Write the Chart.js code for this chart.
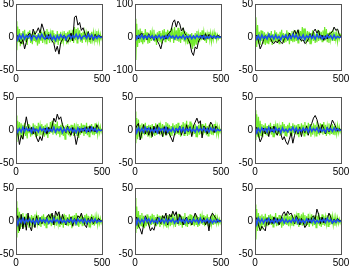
<!DOCTYPE html>
<html>
<head>
<meta charset="utf-8">
<script src="https://cdn.jsdelivr.net/npm/chart.js@4"></script>
<style>
  html, body { margin: 0; padding: 0; background: #fff; }
  #wrap { position: relative; width: 350px; height: 269px; overflow: hidden; }
  .cell { position: absolute; }
</style>
</head>
<body>
<div id="wrap"></div>
<script>
// sample index (x) for black and blue
var samples = [0, 10, 20, 30, 40, 50, 60, 70, 80, 90, 100, 110, 120, 130, 140, 150, 160, 170, 180, 190, 200,
  210, 220, 230, 240, 250, 260, 270, 280, 290, 300, 310, 320, 330, 340, 350, 360, 370, 380, 390, 400,
  410, 420, 430, 440, 450, 460, 470, 480, 490, 500];
// finer sample index for the green series
var samplesFine = [0, 5, 10, 15, 20, 25, 30, 35, 40, 45, 50, 55, 60, 65, 70, 75, 80, 85, 90, 95,
  100, 105, 110, 115, 120, 125, 130, 135, 140, 145, 150, 155, 160, 165, 170, 175, 180, 185, 190, 195,
  200, 205, 210, 215, 220, 225, 230, 235, 240, 245, 250, 255, 260, 265, 270, 275, 280, 285, 290, 295,
  300, 305, 310, 315, 320, 325, 330, 335, 340, 345, 350, 355, 360, 365, 370, 375, 380, 385, 390, 395,
  400, 405, 410, 415, 420, 425, 430, 435, 440, 445, 450, 455, 460, 465, 470, 475, 480, 485, 490, 495, 500];

// y limits per panel (tick labels are -lim, 0, lim)
var yLimits = [50, 100, 50, 50, 50, 50, 50, 50, 50];

// black series, one per panel
var black1 = [0, 2, -6, -10, -4, -18, -8, 3, 6, -2, 12, 4, 8, 14, 6, 20, 12, 2, -3, 4, -2, -6, -10, -22, -14, -26, -8, -4, 3, -2, -8, -3, 6, -6, 30, 32, 18, 22, 10, 14, 6, -2, 8, -4, 3, -5, 4, -1, 3, 1, 0];
var black2 = [0, 4, -6, 8, 12, -4, 6, -8, 10, -5, 4, -10, 6, -12, -22, -36, -14, 4, -6, 8, 12, 20, 44, 52, 30, 48, 40, 18, 28, 10, 4, -8, -20, -46, -56, -30, -36, -12, -4, 6, -8, 10, -4, 8, 2, -6, 4, -2, 6, 2, 0];
var black3 = [0, 3, -6, -18, -12, -4, 2, -3, 4, -2, -8, -10, -6, -9, -4, -8, -10, -3, 2, -4, 6, -2, 3, 10, 4, 11, -2, -6, -4, -10, -8, -3, 5, -2, 8, 12, 6, 10, -2, 3, -5, 2, -3, 4, 6, 8, 15, 10, 12, 4, 0];
var black4 = [0, -4, -22, -8, -14, 4, 20, 6, -2, 4, -6, 2, -12, -18, -10, -16, -4, 3, -6, 4, -2, 6, 18, 12, 24, 16, 20, 8, 2, -4, 6, -3, -8, 4, -6, -22, -10, 2, -4, 3, -2, 5, -3, 6, -2, 4, -3, 8, 2, -1, 0];
var black5 = [0, 6, 10, -15, -4, 8, -6, 3, -8, 4, -10, 6, -4, 8, -6, 2, -10, 5, -8, 4, -6, -12, -18, -6, 3, -4, 6, -8, 4, -6, 8, -3, 5, -10, 6, 12, 18, 10, 14, -12, 6, 3, -6, 4, 12, 8, -4, 6, 2, -1, 0];
var black6 = [0, 4, -8, -18, -12, 3, -6, 2, -10, 4, -3, 6, -4, -8, 3, -6, -15, -10, -18, -22, -14, -4, -20, -8, 2, -6, 4, -10, 3, -4, 6, -8, 4, 10, 18, 22, 16, 6, -4, 8, 2, -6, 4, -3, 6, 15, 10, 4, -2, 2, 0];
var black7 = [0, 8, -15, 10, -12, 6, -14, 12, -8, -15, 4, -10, 8, -6, 5, -4, 2, -3, 6, 10, 4, 12, -6, 15, 8, 14, -4, 10, 2, -6, 4, -3, 6, -8, 4, -2, 8, 5, 12, 3, -6, -10, 4, -2, 6, -4, 3, -2, 4, 1, 0];
var black8 = [0, 6, -8, -12, -20, -6, 8, 2, -6, -15, -10, -14, -4, 6, 2, -4, 8, 4, 12, -6, 10, 6, 15, 8, 14, -4, 10, 4, -6, 2, 6, -4, 3, -6, 4, 12, 6, -3, 4, -2, 5, -6, 2, -15, 6, 12, 8, 4, -2, 1, 0];
var black9 = [0, 5, -6, -15, -8, -12, -15, 4, -6, 3, -4, 6, -2, 4, -6, 2, 10, 14, 8, 15, 10, 12, 6, -4, 8, 3, -6, 4, -2, -10, -6, 4, -3, 5, 8, 2, 18, 10, -4, 6, -3, 4, 2, 12, 6, -4, 3, -2, 4, 1, 0];

// green series (finer)
var green1 = [24, -20, 16, -8, 12, -14, 6, -10, 9, -4, 11, -7, 5, -12, 8, -3, 10, -9, 4, -11,
  7, -5, 9, -8, 3, -13, 6, -10, 8, -6, 5, -9, 7, -4, 9, -10, 12, -5, 8, -9,
  6, -3, 10, -7, 6, -11, 4, -8, 9, -12, 5, -6, 8, -10, 3, -7, 9, -5, 6, -11,
  8, -4, 10, -8, 5, -6, 11, -9, 15, -5, 12, -9, 14, -3, 10, -7, 6, -9, 8, -4,
  7, -8, 5, -6, 9, -7, 6, -10, 8, -4, 7, -6, 5, -8, 9, -5, 6, -7, 4, -3, 2];
var green2 = [55, -70, 40, -30, 22, -18, 26, -14, 18, -22, 12, -16, 24, -10, 14, -20, 8, -18, 20, -12,
  16, -8, 22, -14, 10, -24, 14, -12, 18, -16, 12, -20, 20, -10, 24, -14, 16, -8, 22, -12,
  18, -16, 26, -6, 14, -18, 30, -10, 20, -12, 28, -14, 22, -18, 16, -8, 28, -12, 18, -10,
  14, -22, 10, -20, 8, -32, 12, -36, 6, -28, 12, -22, 18, -14, 10, -16, 14, -10, 20, -8,
  16, -12, 14, -18, 10, -6, 16, -10, 12, -14, 10, -8, 14, -6, 8, -10, 6, -5, 4, -3, 2];
var green3 = [14, 30, -15, 18, -10, 8, -12, 10, -6, 9, -10, 7, -12, 5, -9, 8, -11, 6, -7, 9,
  -12, 4, -8, 10, -6, 7, -9, 5, -10, 8, -4, 11, -7, 6, -9, 5, -8, 10, -6, 7,
  -11, 6, -5, 9, -8, 4, -7, 10, -6, 8, -9, 11, -4, 9, -7, 15, -3, 13, -8, 6,
  -5, 9, -7, 8, -10, 6, -4, 10, -6, 7, -9, 5, -8, 11, -6, 9, -5, 8, -7, 10,
  -6, 15, -5, 12, -8, 6, -9, 8, -4, 9, -6, 7, -5, 8, -4, 6, -7, 5, -3, 4, 2];
var green4 = [22, -18, 14, -10, 12, -8, 10, -12, 8, -6, 11, -9, 6, -13, 9, -5, 7, -10, 5, -8,
  10, -6, 8, -11, 6, -9, 11, -4, 7, -8, 9, -5, 6, -10, 8, -7, 10, -12, 5, -6,
  12, -4, 14, -7, 10, -5, 9, -8, 13, -6, 6, -11, 8, -7, 11, -9, 5, -14, 7, -6,
  9, -8, 6, -10, 8, -5, 7, -9, 10, -6, 5, -8, 9, -12, 6, -7, 10, -5, 8, -9,
  7, -6, 11, -8, 6, -10, 8, -5, 9, -7, 6, -8, 10, -6, 5, -7, 6, -4, 5, -3, 2];
var green5 = [28, -20, 18, -14, 16, -10, 8, -12, 10, -6, 9, -8, 11, -7, 6, -10, 8, -5, 7, -12,
  9, -6, 5, -9, 10, -7, 8, -4, 11, -8, 6, -6, 9, -10, 7, -5, 12, -8, 10, -6,
  8, -11, 6, -9, 10, -5, 7, -8, 9, -6, 11, -7, 6, -10, 8, -5, 12, -8, 10, -6,
  14, -9, 8, -7, 13, -5, 10, -8, 7, -6, 9, -10, 6, -5, 8, -7, 11, -6, 9, -8,
  7, -5, 10, -8, 6, -9, 8, -6, 11, -7, 6, -8, 9, -5, 7, -6, 5, -7, 4, -3, 2];
var green6 = [30, -15, 24, -10, 20, -12, 14, -8, 9, -11, 7, -6, 10, -8, 6, -9, 8, -5, 11, -7,
  6, -10, 9, -4, 7, -8, 10, -6, 5, -9, 8, -7, 12, -5, 9, -8, 6, -10, 8, -4,
  11, -7, 6, -9, 10, -5, 8, -6, 7, -8, 9, -11, 6, -7, 10, -5, 8, -9, 12, -6,
  7, -8, 11, -5, 9, -10, 6, -7, 10, -4, 8, -9, 13, -6, 7, -8, 10, -5, 9, -7,
  12, -6, 8, -9, 6, -5, 10, -8, 7, -6, 9, -7, 6, -8, 5, -6, 7, -4, 5, -3, 2];
var green7 = [30, -25, 20, -18, 14, -12, 10, -8, 12, -10, 7, -9, 11, -6, 8, -10, 6, -7, 9, -5,
  7, -8, 10, -6, 8, -4, 9, -7, 6, -9, 8, -5, 10, -7, 6, -10, 8, -6, 9, -5,
  11, -8, 7, -6, 9, -4, 8, -7, 6, -5, 10, -9, 7, -6, 8, -10, 11, -5, 9, -7,
  6, -8, 10, -6, 7, -11, 8, -5, 9, -7, 12, -6, 8, -9, 7, -5, 10, -8, 6, -7,
  9, -5, 11, -6, 8, -9, 7, -4, 10, -6, 8, -7, 6, -5, 7, -6, 5, -4, 4, -3, 2];
var green8 = [35, -18, 22, -12, 15, -10, 9, -7, 12, -9, 8, -11, 6, -8, 10, -5, 7, -9, 8, -6,
  11, -4, 9, -7, 6, -8, 10, -5, 8, -9, 7, -6, 9, -4, 8, -7, 6, -10, 9, -5,
  7, -8, 10, -6, 8, -4, 7, -9, 6, -5, 11, -7, 9, -6, 8, -10, 7, -5, 12, -8,
  6, -9, 8, -5, 10, -7, 9, -6, 7, -8, 10, -5, 8, -9, 6, -7, 11, -4, 8, -6,
  9, -8, 7, -5, 10, -7, 6, -9, 8, -5, 7, -6, 9, -5, 6, -4, 5, -4, 3, -3, 2];
var green9 = [25, -28, 18, -15, 12, -10, 8, -12, 10, -6, 7, -9, 11, -7, 6, -8, 9, -5, 10, -6,
  8, -9, 7, -4, 12, -8, 6, -7, 9, -5, 8, -10, 6, -7, 10, -4, 8, -6, 11, -8,
  7, -5, 9, -7, 6, -8, 10, -5, 7, -6, 12, -9, 8, -6, 10, -7, 13, -5, 9, -8,
  7, -6, 11, -9, 6, -5, 10, -8, 7, -6, 9, -10, 8, -5, 12, -7, 6, -9, 10, -6,
  8, -7, 6, -5, 9, -8, 7, -6, 10, -5, 7, -6, 5, -7, 6, -4, 5, -4, 3, -3, 2];

// blue series
var blue1 = [5, -4, 3, -2, 4, -3, 2, -1, 3, -4, 2, 1, -3, 3, -2, 4, -1, -3, 2, -2, 3, -4, 1, -5, 2, -3, 3, -1, 2, -4, 1, 3, -2, 2, -1, 4, -2, 3, -3, 1, 2, -2, 4, -1, 3, -3, 1, -2, 2, -1, 0];
var blue2 = [8, -6, 4, -3, 6, -5, 3, -4, 5, -2, 4, -6, 3, -3, 5, -4, 2, -5, 4, -3, 6, -2, 3, -5, 4, -4, 2, -3, 5, -6, 3, -2, 4, -5, 3, -4, 5, -2, 3, -3, 4, -5, 2, -3, 4, -2, 3, -4, 2, -2, 0];
var blue3 = [4, -3, 2, -4, 3, -2, 1, -3, 4, -1, 2, -3, 3, -2, 1, -4, 2, -1, 3, -3, 2, -2, 4, -1, 3, -3, 1, -2, 3, -4, 2, -1, 3, -2, 2, -3, 4, -1, 2, -3, 1, -2, 3, -1, 2, -3, 3, -2, 1, -1, 0];
var blue4 = [5, -3, 2, -3, 4, -2, 3, -1, 2, -4, 3, -2, 1, -3, 4, -1, 2, -3, 3, -2, 1, -2, 4, -3, 2, -1, 3, -4, 2, -2, 3, -1, 2, -3, 1, -4, 3, -2, 2, -1, 3, -3, 2, -2, 4, -1, 2, -3, 1, -1, 0];
var blue5 = [6, -4, 3, -2, 2, -3, 4, -1, 3, -2, 1, -3, 2, -4, 3, -1, 2, -2, 4, -3, 1, -2, 3, -3, 2, -1, 4, -2, 3, -3, 2, -1, 3, -2, 1, -3, 4, -2, 2, -1, 3, -2, 2, -3, 3, -1, 2, -2, 1, -1, 0];
var blue6 = [5, -4, 2, -3, 3, -1, 2, -3, 4, -2, 1, -3, 3, -1, 2, -4, 3, -2, 1, -3, 2, -1, 4, -2, 3, -3, 1, -2, 3, -1, 2, -3, 4, -2, 2, -1, 3, -3, 2, -2, 1, -3, 3, -1, 2, -2, 3, -1, 2, -1, 0];
var blue7 = [6, -5, 3, -2, 4, -3, 2, -1, 3, -2, 1, -4, 2, -3, 3, -1, 2, -2, 3, -3, 1, -2, 4, -1, 2, -3, 3, -2, 1, -3, 2, -1, 3, -2, 2, -4, 3, -1, 2, -2, 3, -3, 1, -2, 2, -1, 3, -2, 1, -1, 0];
var blue8 = [7, -4, 3, -3, 2, -2, 4, -1, 3, -3, 2, -2, 1, -3, 4, -1, 2, -3, 3, -2, 2, -1, 3, -3, 1, -2, 4, -1, 2, -3, 3, -2, 1, -2, 3, -1, 2, -3, 4, -2, 1, -1, 3, -2, 2, -3, 1, -2, 2, -1, 0];
var blue9 = [6, -5, 4, -2, 3, -3, 2, -1, 4, -2, 1, -3, 3, -2, 2, -1, 3, -3, 2, -2, 1, -2, 3, -1, 4, -3, 2, -2, 1, -3, 3, -1, 2, -2, 3, -3, 1, -2, 2, -1, 3, -2, 4, -1, 2, -3, 1, -2, 2, -1, 0];

var blacks = [black1, black2, black3, black4, black5, black6, black7, black8, black9];
var greens = [green1, green2, green3, green4, green5, green6, green7, green8, green9];
var blues = [blue1, blue2, blue3, blue4, blue5, blue6, blue7, blue8, blue9];

// layout of the plot areas (pixels)
var colLeft = [16, 135, 255];
var rowTop = [4, 97, 188];
var plotW = 86, plotH = 66;
var yAxisW = [18, 24, 24];
var padTop = 8, padRight = 14, xAxisH = 16;

var tickFont = { family: "'Liberation Sans', Arial, sans-serif", size: 10 };

// box around the whole plot area (top and right sides)
var boxPlugin = {
  id: 'box',
  afterDraw: function(chart) {
    var a = chart.chartArea;
    var c = chart.ctx;
    c.save();
    c.strokeStyle = '#555';
    c.lineWidth = 1;
    c.strokeRect(Math.round(a.left) + 0.5, Math.round(a.top) + 0.5, Math.round(a.right - a.left), Math.round(a.bottom - a.top));
    c.restore();
  }
};

function pts(xs, arr) {
  return arr.map(function(v, i) { return { x: xs[i], y: v }; });
}

var wrap = document.getElementById('wrap');

for (var p = 0; p < 9; p++) {
  var col = p % 3, row = Math.floor(p / 3);
  var yw = yAxisW[col];
  var div = document.createElement('div');
  div.className = 'cell';
  var w = yw + plotW + padRight, h = padTop + plotH + xAxisH;
  div.style.left = (colLeft[col] - yw) + 'px';
  div.style.top = (rowTop[row] - padTop) + 'px';
  div.style.width = w + 'px';
  div.style.height = h + 'px';
  var cv = document.createElement('canvas');
  cv.width = w; cv.height = h;
  div.appendChild(cv);
  wrap.appendChild(div);

  var lim = yLimits[p];
  (function(yw) {
    new Chart(cv.getContext('2d'), {
      type: 'line',
      data: {
        datasets: [
          { data: pts(samples, blues[p]), borderColor: 'rgb(30,80,235)', borderWidth: 1.6, order: 1 },
          { data: pts(samples, blacks[p]), borderColor: '#000', borderWidth: 1, order: 2 },
          { data: pts(samplesFine, greens[p]), borderColor: 'rgb(115,235,45)', borderWidth: 1.2, order: 3 }
        ]
      },
      options: {
        responsive: false,
        animation: false,
        events: [],
        layout: { padding: { top: padTop, right: padRight, left: 0, bottom: 0 } },
        elements: { point: { radius: 0 }, line: { tension: 0, fill: false } },
        plugins: { legend: { display: false }, tooltip: { enabled: false } },
        scales: {
          x: {
            type: 'linear', min: 0, max: 500,
            grid: { display: false, drawTicks: false },
            border: { display: true, color: '#555' },
            ticks: { stepSize: 500, font: tickFont, color: '#000', padding: 3, maxRotation: 0 },
            afterFit: function(s) { s.height = xAxisH; }
          },
          y: {
            min: -lim, max: lim,
            grid: { display: false, drawTicks: false },
            border: { display: true, color: '#555' },
            ticks: { stepSize: lim, font: tickFont, color: '#000', padding: 2 },
            afterFit: function(s) { s.width = yw; }
          }
        }
      },
      plugins: [boxPlugin]
    });
  })(yw);
}
</script>
</body>
</html>
